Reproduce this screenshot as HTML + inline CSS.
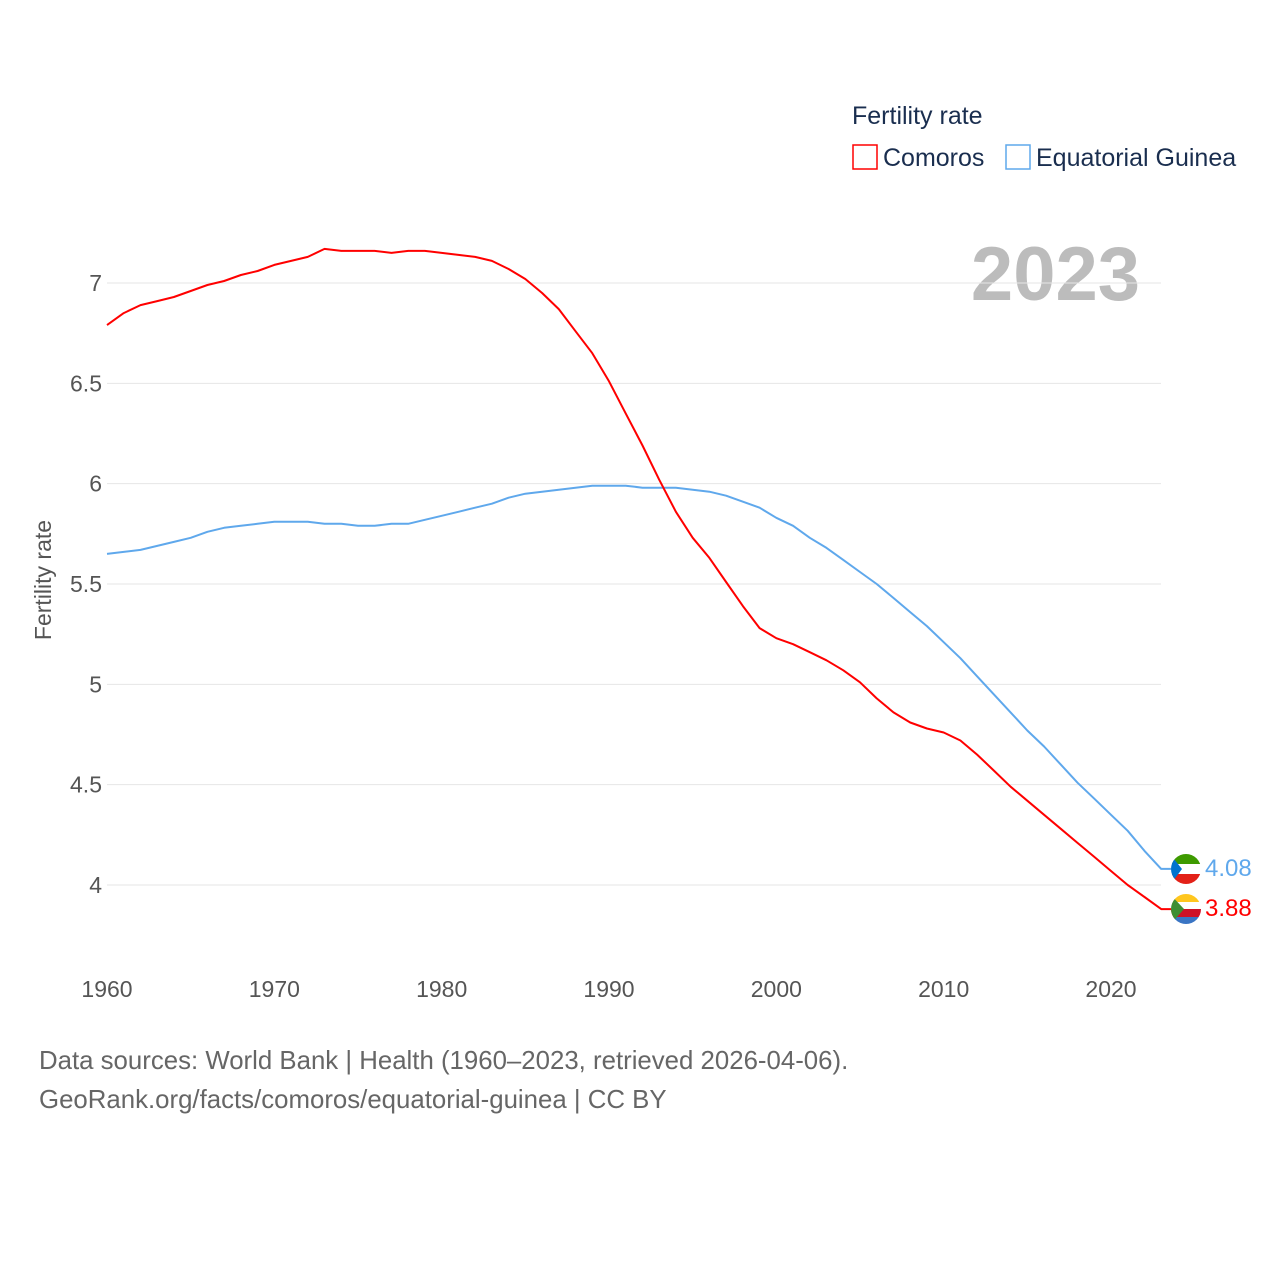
<!DOCTYPE html>
<html><head><meta charset="utf-8"><style>
body{margin:0;background:#fff;font-family:"Liberation Sans",sans-serif}
svg text{font-family:"Liberation Sans",sans-serif}
</style></head><body>
<svg id="chart" width="1280" height="1280" xmlns="http://www.w3.org/2000/svg">
<text x="852" y="124" font-size="25" fill="#1a2e4f">Fertility rate</text>
<g><rect x="853" y="145" width="24" height="24" fill="none" stroke="#ff0000" stroke-width="1.5"/><text x="883" y="166" font-size="25" fill="#1a2e4f">Comoros</text></g>
<g><rect x="1006" y="145" width="24" height="24" fill="none" stroke="#5fa8ec" stroke-width="1.5"/><text x="1036" y="166" font-size="25" fill="#1a2e4f">Equatorial Guinea</text></g>
<text x="1140" y="300" font-size="76" font-weight="bold" fill="#bcbcbc" text-anchor="end">2023</text>
<text transform="translate(51,580) rotate(-90)" font-size="23" fill="#555" text-anchor="middle">Fertility rate</text>
<g id="grid"></g><g id="ylab"></g><g id="xlab"></g><g id="lines"></g>
<g>
<clipPath id="c1"><circle cx="1186" cy="869" r="15"/></clipPath>
<g clip-path="url(#c1)"><rect x="1170" y="854" width="32" height="10" fill="#3e9a00"/><rect x="1170" y="864" width="32" height="10" fill="#fff"/><rect x="1170" y="874" width="32" height="11" fill="#e32118"/><polygon points="1170,854 1182,869 1170,885" fill="#0073ce"/></g></g>
<g>
<clipPath id="c2"><circle cx="1186" cy="909" r="15"/></clipPath>
<g clip-path="url(#c2)"><rect x="1170" y="894" width="32" height="8" fill="#ffc61e"/><rect x="1170" y="902" width="32" height="7" fill="#fff"/><rect x="1170" y="909" width="32" height="8" fill="#ce1126"/><rect x="1170" y="917" width="32" height="8" fill="#3a75c4"/><polygon points="1170,894 1184,909 1170,925" fill="#3d8e33"/></g></g>
<text x="1205" y="876" font-size="24" fill="#5fa8ec">4.08</text>
<text x="1205" y="916" font-size="24" fill="#ff0000">3.88</text>
<text x="39" y="1069" font-size="25.8" fill="#666">Data sources: World Bank | Health (1960–2023, retrieved 2026-04-06).</text>
<text x="39" y="1108" font-size="25.8" fill="#666">GeoRank.org/facts/comoros/equatorial-guinea | CC BY</text>
</svg>
<script>
const years=[];for(let y=1960;y<=2023;y++)years.push(y);
const comoros=[6.79,6.85,6.89,6.91,6.93,6.96,6.99,7.01,7.04,7.06,7.09,7.11,7.13,7.17,7.16,7.16,7.16,7.15,7.16,7.16,7.15,7.14,7.13,7.11,7.07,7.02,6.95,6.87,6.76,6.65,6.51,6.35,6.19,6.02,5.86,5.73,5.63,5.51,5.39,5.28,5.23,5.20,5.16,5.12,5.07,5.01,4.93,4.86,4.81,4.78,4.76,4.72,4.65,4.57,4.49,4.42,4.35,4.28,4.21,4.14,4.07,4.00,3.94,3.88];
const eqGuinea=[5.65,5.66,5.67,5.69,5.71,5.73,5.76,5.78,5.79,5.80,5.81,5.81,5.81,5.80,5.80,5.79,5.79,5.80,5.80,5.82,5.84,5.86,5.88,5.90,5.93,5.95,5.96,5.97,5.98,5.99,5.99,5.99,5.98,5.98,5.98,5.97,5.96,5.94,5.91,5.88,5.83,5.79,5.73,5.68,5.62,5.56,5.50,5.43,5.36,5.29,5.21,5.13,5.04,4.95,4.86,4.77,4.69,4.60,4.51,4.43,4.35,4.27,4.17,4.08];
const yTicks=[4,4.5,5,5.5,6,6.5,7];
const xTicks=[1960,1970,1980,1990,2000,2010,2020];
const NS="http://www.w3.org/2000/svg";
const X=v=>107+(v-1960)*(1111-107)/60;
const Y=v=>885-(v-4)*(885-283)/3;
function mk(t,a,p){const e=document.createElementNS(NS,t);for(const k in a)e.setAttribute(k,a[k]);document.getElementById(p).appendChild(e);return e;}
yTicks.forEach(v=>{
 const l=mk('line',{x1:107,x2:1161,y1:Y(v),y2:Y(v),stroke:'#e6e6e6','stroke-width':1},'grid');
 
 
 const t=mk('text',{x:102,y:Y(v)+8,'font-size':23,fill:'#555','text-anchor':'end'},'ylab');t.textContent=v;
 
 
});
xTicks.forEach(v=>{
 const t=mk('text',{x:X(v),y:997,'font-size':23,fill:'#555','text-anchor':'middle'},'xlab');t.textContent=v;
 
 
});
function line(vals,col,name){
 let d=vals.map((v,i)=>(i?'L':'M')+X(years[i]).toFixed(1)+','+Y(v).toFixed(1)).join(' ');
 d+=' L1172,'+Y(vals[vals.length-1]).toFixed(1);
 const p=mk('path',{d:d,fill:'none',stroke:col,'stroke-width':2,'stroke-linejoin':'round'},'lines');
 
 
}
line(eqGuinea,'#5fa8ec','line-equatorial-guinea');
line(comoros,'#ff0000','line-comoros');
</script>
</body></html>
